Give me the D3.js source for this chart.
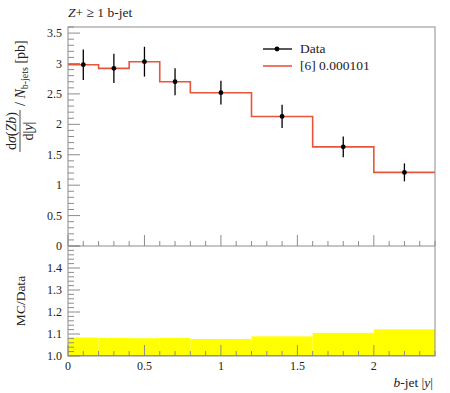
<!DOCTYPE html>
<html>
<head>
<meta charset="utf-8">
<script src="https://cdn.jsdelivr.net/npm/d3@7"></script>
<style>
  body { margin: 0; background: #fff; }
  text { font-family: "Liberation Serif", "DejaVu Serif", serif; fill: #222; }
</style>
</head>
<body>
<div id="chart"></div>
<script>
// bin edges in b-jet |y| and the measured values
var binEdges = [0, 0.2, 0.4, 0.6, 0.8, 1.2, 1.6, 2.0, 2.4];
var dataValues = [2.98, 2.92, 3.03, 2.70, 2.52, 2.13, 1.63, 1.21];
var dataErrors = [0.25, 0.24, 0.245, 0.222, 0.195, 0.19, 0.171, 0.147];
var mcValues = [2.98, 2.92, 3.03, 2.70, 2.52, 2.13, 1.63, 1.21];

var xTicks = [0, 0.5, 1, 1.5, 2];
var xTickLabels = ['0', '0.5', '1', '1.5', '2'];
var yTicks = [0, 0.5, 1, 1.5, 2, 2.5, 3, 3.5];
var yTickLabels = ['0', '0.5', '1', '1.5', '2', '2.5', '3', '3.5'];
var rTicks = [1.0, 1.1, 1.2, 1.3, 1.4];
var rTickLabels = ['1.0', '1.1', '1.2', '1.3', '1.4'];

var width = 450,
    height = 393,
    padLeft = 68,
    padRight = 435,
    padTop = 27,
    padMid = 246,
    padBottom = 356,
    frameColor = '#8c8c8c',
    mcColor = '#e9553b';

var svg = d3.select('#chart')
    .append('svg')
    .attr('width', width)
    .attr('height', height);

var x = d3.scaleLinear().domain([0, 2.4]).range([padLeft, padRight]);
var y = d3.scaleLinear().domain([0, 3.6]).range([padMid, padTop]);
var yr = d3.scaleLinear().domain([1.0, 1.5]).range([padBottom, padMid]);

var centers = dataValues.map(function (d, i) { return (binEdges[i] + binEdges[i + 1]) / 2; });

// yellow band of the data uncertainty in the ratio panel
svg.append('clipPath').attr('id', 'ratioClip')
    .append('rect')
    .attr('x', padLeft).attr('y', padMid)
    .attr('width', padRight - padLeft).attr('height', padBottom - padMid);
var band = svg.append('g').attr('clip-path', 'url(#ratioClip)');

band.selectAll('rect')
    .data(dataValues)
    .enter().append('rect')
    .attr('x', function (d, i) { return x(binEdges[i]); })
    .attr('width', function (d, i) { return x(binEdges[i + 1]) - x(binEdges[i]); })
    .attr('y', function (d, i) { return yr(1 + dataErrors[i] / d); })
    .attr('height', function (d, i) { return yr(1 - dataErrors[i] / d) - yr(1 + dataErrors[i] / d); })
    .style('fill', '#ffff00');

// ticks
function minorRange(a, b, step) {
    var out = [];
    var n = Math.round((b - a) / step);
    for (var i = 0; i <= n; i++) out.push(+(a + i * step).toFixed(4));
    return out;
}

var ticks = svg.append('g').style('stroke', frameColor).style('stroke-width', 1);

[padMid, padBottom].forEach(function (base) {
    ticks.selectAll(null)
        .data(minorRange(0, 2.4, 0.1))
        .enter().append('line')
        .attr('x1', function (d) { return x(d); })
        .attr('x2', function (d) { return x(d); })
        .attr('y1', base)
        .attr('y2', function (d) { return base - (Math.abs(d * 2 - Math.round(d * 2)) < 1e-6 ? 11 : 5); });
});

ticks.selectAll(null)
    .data(minorRange(0, 3.6, 0.1))
    .enter().append('line')
    .attr('x1', padLeft)
    .attr('x2', function (d) { return padLeft + (Math.abs(d * 2 - Math.round(d * 2)) < 1e-6 ? 12 : 6); })
    .attr('y1', function (d) { return y(d); })
    .attr('y2', function (d) { return y(d); });

ticks.selectAll(null)
    .data(minorRange(1.0, 1.5, 0.02))
    .enter().append('line')
    .attr('x1', padLeft)
    .attr('x2', function (d) { return padLeft + (Math.abs(d * 10 - Math.round(d * 10)) < 1e-6 ? 12 : 6); })
    .attr('y1', function (d) { return yr(d); })
    .attr('y2', function (d) { return yr(d); });

// MC histogram
var stepLine = d3.line()
    .x(function (d) { return x(d[0]); })
    .y(function (d) { return y(d[1]); });
var steps = [];
mcValues.forEach(function (v, i) {
    steps.push([binEdges[i], v]);
    steps.push([binEdges[i + 1], v]);
});
svg.append('path')
    .attr('d', stepLine(steps))
    .style('fill', 'none')
    .style('stroke', mcColor)
    .style('stroke-width', 1.6);

// MC / Data ratio line
var ratioLine = d3.line()
    .x(function (d) { return x(d[0]); })
    .y(function (d) { return yr(d[1]); });
var rsteps = [];
mcValues.forEach(function (v, i) {
    rsteps.push([binEdges[i], v / dataValues[i]]);
    rsteps.push([binEdges[i + 1], v / dataValues[i]]);
});
svg.append('path')
    .attr('d', ratioLine(rsteps))
    .attr('clip-path', 'url(#ratioClip)')
    .style('fill', 'none')
    .style('stroke', mcColor)
    .style('stroke-width', 1.6);

// data points
var pts = svg.append('g');
pts.selectAll('line')
    .data(dataValues)
    .enter().append('line')
    .attr('x1', function (d, i) { return x(centers[i]); })
    .attr('x2', function (d, i) { return x(centers[i]); })
    .attr('y1', function (d, i) { return y(d - dataErrors[i]); })
    .attr('y2', function (d, i) { return y(d + dataErrors[i]); })
    .style('stroke', '#000')
    .style('stroke-width', 1.3);
pts.selectAll('circle')
    .data(dataValues)
    .enter().append('circle')
    .attr('cx', function (d, i) { return x(centers[i]); })
    .attr('cy', function (d) { return y(d); })
    .attr('r', 2.4)
    .style('fill', '#000');

// frames
svg.append('rect')
    .attr('x', padLeft).attr('y', padTop)
    .attr('width', padRight - padLeft).attr('height', padBottom - padTop)
    .style('fill', 'none')
    .style('stroke', frameColor);
svg.append('line')
    .attr('x1', padLeft).attr('x2', padRight)
    .attr('y1', padMid).attr('y2', padMid)
    .style('stroke', frameColor);

// tick labels
svg.selectAll('.ylab')
    .data(yTicks)
    .enter().append('text')
    .attr('class', 'ylab')
    .attr('x', padLeft - 6)
    .attr('y', function (d) { return y(d) + 4; })
    .attr('text-anchor', 'end')
    .style('font-size', '12px')
    .text(function (d, i) { return yTickLabels[i]; });

svg.selectAll('.rlab')
    .data(rTicks)
    .enter().append('text')
    .attr('class', 'rlab')
    .attr('x', padLeft - 6)
    .attr('y', function (d) { return yr(d) + 4; })
    .attr('text-anchor', 'end')
    .style('font-size', '12px')
    .text(function (d, i) { return rTickLabels[i]; });

svg.selectAll('.xlab')
    .data(xTicks)
    .enter().append('text')
    .attr('class', 'xlab')
    .attr('x', function (d) { return x(d); })
    .attr('y', padBottom + 14)
    .attr('text-anchor', 'middle')
    .style('font-size', '12px')
    .text(function (d, i) { return xTickLabels[i]; });

// title
var title = svg.append('text')
    .attr('x', padLeft)
    .attr('y', 17)
    .style('font-size', '13.5px');
title.append('tspan').style('font-style', 'italic').text('Z');
title.append('tspan').text('+ \u2265 1 b-jet');

// x label
var xl = svg.append('text')
    .attr('x', padRight - 2)
    .attr('y', 387)
    .attr('text-anchor', 'end')
    .style('font-size', '13.5px');
xl.append('tspan').style('font-style', 'italic').text('b');
xl.append('tspan').text('-jet |');
xl.append('tspan').style('font-style', 'italic').text('y');
xl.append('tspan').text('|');

// y label of the main panel
var yl = svg.append('g').attr('transform', 'translate(20,152) rotate(-90)');
var num = yl.append('text')
    .attr('x', 21).attr('y', -4)
    .attr('text-anchor', 'middle')
    .style('font-size', '14px');
num.append('tspan').text('d');
num.append('tspan').style('font-style', 'italic').text('\u03c3');
num.append('tspan').text('(');
num.append('tspan').style('font-style', 'italic').text('Zb');
num.append('tspan').text(')');
yl.append('line')
    .attr('x1', 0).attr('x2', 42)
    .attr('y1', 0).attr('y2', 0)
    .style('stroke', '#222').style('stroke-width', 0.8);
var den = yl.append('text')
    .attr('x', 21).attr('y', 13)
    .attr('text-anchor', 'middle')
    .style('font-size', '14px');
den.append('tspan').text('d|');
den.append('tspan').style('font-style', 'italic').text('y');
den.append('tspan').text('|');
var rest = yl.append('text')
    .attr('x', 46).attr('y', 5)
    .style('font-size', '14px');
rest.append('tspan').text('/ ');
rest.append('tspan').style('font-style', 'italic').text('N');
rest.append('tspan').attr('dy', 3).style('font-size', '10px').text('b-jets');
rest.append('tspan').attr('dy', -3).text(' [pb]');

// y label of the ratio panel
svg.append('text')
    .attr('transform', 'translate(25,' + (padMid + padBottom) / 2 + ') rotate(-90)')
    .attr('text-anchor', 'middle')
    .style('font-size', '13.5px')
    .text('MC/Data');

// legend
var legend = svg.append('g');
legend.append('line')
    .attr('x1', 263).attr('x2', 292)
    .attr('y1', 49).attr('y2', 49)
    .style('stroke', '#000').style('stroke-width', 1.3);
legend.append('circle')
    .attr('cx', 277).attr('cy', 49).attr('r', 2.4)
    .style('fill', '#000');
legend.append('text')
    .attr('x', 300).attr('y', 53)
    .style('font-size', '13.5px')
    .text('Data');
legend.append('line')
    .attr('x1', 263).attr('x2', 292)
    .attr('y1', 66).attr('y2', 66)
    .style('stroke', mcColor).style('stroke-width', 1.6);
legend.append('text')
    .attr('x', 300).attr('y', 70)
    .style('font-size', '13.5px')
    .text('[6] 0.000101');
</script>
</body>
</html>
